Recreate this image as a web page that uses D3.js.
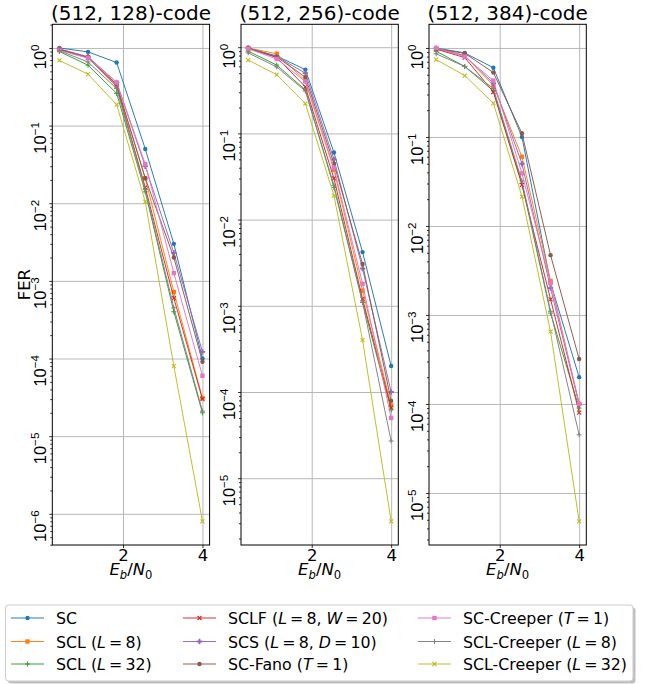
<!DOCTYPE html>
<html lang="en">
<head>
<meta charset="UTF-8">
<title>FER of (512, k) codes</title>
<script src="https://d3js.org/d3.v7.min.js"></script>
<style>
  body { margin: 0; background: #fff; }
  svg { font-family: "DejaVu Sans", sans-serif; }
  .tick line { stroke: #000; stroke-width: 0.8; }
  .grid .tick line { stroke: #b0b0b0; stroke-width: 0.9; }
</style>
</head>
<body>
<div id="chart"></div>
<script>
// Eb/N0 points and ticks
var ebn0 = [0.4, 1.12, 1.84, 2.56, 3.28, 4.0];
var xTicks = [2, 4];
var titles = ["(512, 128)-code", "(512, 256)-code", "(512, 384)-code"];

var labels = ["SC", "SCL (L = 8)", "SCL (L = 32)", "SCLF (L = 8, W = 20)", "SCS (L = 8, D = 10)",
              "SC-Fano (T = 1)", "SC-Creeper (T = 1)", "SCL-Creeper (L = 8)", "SCL-Creeper (L = 32)"];
var colors = ["#1f77b4", "#ff7f0e", "#2ca02c", "#d62728", "#9467bd",
              "#8c564b", "#e377c2", "#7f7f7f", "#bcbd22"];
var markers = ["o", "s", "+", "x", "P", "o", "s", "+", "x"];

// FER per decoder (same order as labels)
var fer128 = [
  [1.0, 0.89, 0.65, 0.05, 0.003, 1.0e-4],
  [0.97, 0.76, 0.33, 0.021, 7.2e-4, 3.1e-5],
  [0.9, 0.6, 0.26, 0.014, 4.0e-4, 2.0e-5],
  [0.95, 0.75, 0.32, 0.016, 6.0e-4, 3.0e-5],
  [0.97, 0.77, 0.36, 0.03, 2.3e-3, 1.22e-4],
  [0.96, 0.75, 0.34, 0.021, 2.0e-3, 9.1e-5],
  [0.93, 0.74, 0.36, 0.032, 1.26e-3, 6.0e-5],
  [0.92, 0.66, 0.3, 0.015, 4.5e-4, 2.1e-5],
  [0.69, 0.46, 0.186, 0.0105, 8.0e-5, 8.0e-7]
];
var fer256 = [
  [0.98, 0.79, 0.55, 0.06, 0.0042, 2.0e-4],
  [0.98, 0.84, 0.41, 0.038, 0.0015, 7.0e-5],
  [0.9, 0.62, 0.32, 0.0237, 0.0011, 6.2e-5],
  [0.97, 0.76, 0.347, 0.03, 0.0012, 6.6e-5],
  [0.98, 0.78, 0.5, 0.05, 0.0027, 1.0e-4],
  [0.97, 0.77, 0.45, 0.0446, 0.00305, 7.9e-5],
  [0.96, 0.73, 0.40, 0.04, 0.0018, 5.0e-5],
  [0.86, 0.59, 0.31, 0.025, 0.0011, 2.7e-5],
  [0.71, 0.48, 0.222, 0.019, 4.0e-4, 3.16e-6]
];
var fer384 = [
  [1.0, 0.88, 0.60, 0.10, 0.0023, 2.0e-4],
  [0.98, 0.82, 0.38, 0.06, 0.0024, 1.0e-4],
  [0.92, 0.62, 0.33, 0.03, 0.00105, 9.0e-5],
  [0.97, 0.78, 0.32, 0.029, 0.0015, 8.0e-5],
  [0.99, 0.82, 0.40, 0.05, 0.002, 1.0e-4],
  [0.98, 0.87, 0.53, 0.11, 0.0047, 3.2e-4],
  [1.0, 0.80, 0.43, 0.039, 0.0023, 1.0e-4],
  [0.86, 0.62, 0.35, 0.032, 0.0011, 4.5e-5],
  [0.74, 0.49, 0.24, 0.0214, 6.5e-4, 4.8e-6]
];
var yExps128 = [0, -1, -2, -3, -4, -5, -6];
var yExps256 = [0, -1, -2, -3, -4, -5];
var yExps384 = [0, -1, -2, -3, -4, -5];

var svg = d3.select("#chart").append("svg")
    .attr("width", 645).attr("height", 684);

var axTop = 24.3, axBottom = 545, pw = 157.3;
var panels = [
  {title: titles[0], fer: fer128, exps: yExps128, left: 52.3},
  {title: titles[1], fer: fer256, exps: yExps256, left: 241},
  {title: titles[2], fer: fer384, exps: yExps384, left: 429}
];

// draws one marker at (0,0) inside g
function drawMarker(g, type, color) {
  if (type == "o") {
    g.append("circle").attr("r", 2.2).attr("fill", color);
  } else if (type == "s") {
    g.append("rect").attr("x", -2.2).attr("y", -2.2).attr("width", 4.4).attr("height", 4.4).attr("fill", color);
  } else if (type == "+") {
    g.append("path").attr("d", "M-2.5,0H2.5M0,-2.5V2.5").attr("stroke", color).attr("stroke-width", 1);
  } else if (type == "x") {
    g.append("path").attr("d", "M-2,-2L2,2M-2,2L2,-2").attr("stroke", color).attr("stroke-width", 1.1);
  } else if (type == "P") {
    g.append("path").attr("d", d3.symbol(d3.symbolCross, 16)()).attr("fill", color);
  }
}

panels.forEach(function(p, pi) {
  var h = axBottom - axTop;
  var g = svg.append("g").attr("transform", "translate(" + p.left + "," + axTop + ")");

  var xr = d3.extent(ebn0), xp = (xr[1] - xr[0]) * 0.05;
  var x = d3.scaleLinear().domain([xr[0] - xp, xr[1] + xp]).range([0, pw]);

  var all = d3.merge(p.fer);
  var lo = Math.log10(d3.min(all)), hi = Math.log10(d3.max(all));
  var lp = (hi - lo) * 0.05;
  var y = d3.scaleLog().domain([Math.pow(10, lo - lp), Math.pow(10, hi + lp)]).range([h, 0]);

  var majors = p.exps.map(function(e) { return Math.pow(10, e); });
  var minors = [];
  for (var e = Math.floor(lo - lp); e <= 0; e++) {
    for (var m = 2; m < 10; m++) {
      var v = m * Math.pow(10, e);
      if (v >= y.domain()[0] && v <= y.domain()[1]) minors.push(v);
    }
  }

  // grid
  g.append("g").attr("class", "grid")
    .call(d3.axisLeft(y).tickValues(majors).tickSize(-pw).tickFormat(""))
    .call(function(s) { s.select(".domain").remove(); });
  g.append("g").attr("class", "grid")
    .attr("transform", "translate(0," + h + ")")
    .call(d3.axisBottom(x).tickValues(xTicks).tickSize(-h).tickFormat(""))
    .call(function(s) { s.select(".domain").remove(); });

  // x axis
  var xa = g.append("g").attr("transform", "translate(0," + h + ")")
    .call(d3.axisBottom(x).tickValues(xTicks).tickSize(3).tickPadding(1.2).tickFormat(d3.format("d")));
  xa.select(".domain").remove();
  xa.selectAll("text").attr("font-size", 16.5).attr("fill", "#000").attr("font-family", "DejaVu Sans");

  // y axis minor + major ticks
  var ym = g.append("g").call(d3.axisLeft(y).tickValues(minors).tickSize(2).tickFormat(""));
  ym.select(".domain").remove();
  var ya = g.append("g").call(d3.axisLeft(y).tickValues(majors).tickSize(3).tickFormat(""));
  ya.select(".domain").remove();
  ya.selectAll(".tick").each(function(d) {
    var t = d3.select(this).append("text")
      .attr("transform", "translate(-6,-4) rotate(-90)")
      .attr("text-anchor", "end")
      .attr("font-size", 16.5).attr("fill", "#000");
    var ex = Math.round(Math.log10(d));
    t.append("tspan").text("10");
    t.append("tspan").attr("font-size", 11.6).attr("dy", "-0.6em")
      .text(ex < 0 ? "\u2212" + (-ex) : String(ex));
  });

  // frame
  g.append("rect").attr("width", pw).attr("height", h)
    .attr("fill", "none").attr("stroke", "#000").attr("stroke-width", 1);

  // series
  var line = d3.line().x(function(d, i) { return x(ebn0[i]); }).y(function(d) { return y(d); });
  p.fer.forEach(function(vals, si) {
    g.append("path").datum(vals).attr("d", line)
      .attr("fill", "none").attr("stroke", colors[si]).attr("stroke-width", 1).attr("opacity", 0.95);
    vals.forEach(function(v, i) {
      var mg = g.append("g").attr("transform", "translate(" + x(ebn0[i]) + "," + y(v) + ")");
      drawMarker(mg, markers[si], colors[si]);
    });
  });

  // title
  svg.append("text").attr("x", p.left + pw / 2).attr("y", 19.5)
    .attr("text-anchor", "middle").attr("font-size", 20).text(p.title);

  // x label
  var xl = svg.append("text").attr("x", p.left + pw / 2).attr("y", 575)
    .attr("text-anchor", "middle").attr("font-size", 16.5);
  xl.append("tspan").attr("font-style", "italic").text("E");
  xl.append("tspan").attr("font-style", "italic").attr("font-size", 11.6).attr("dy", 3.5).text("b");
  xl.append("tspan").attr("dy", -3.5).text("/");
  xl.append("tspan").attr("font-style", "italic").text("N");
  xl.append("tspan").attr("font-size", 11.6).attr("dy", 3.5).text("0");
});

// y label
svg.append("text").attr("transform", "translate(30," + (axTop + axBottom) / 2 + ") rotate(-90)")
  .attr("text-anchor", "middle").attr("font-size", 16.5).text("FER");

// legend
var lg = svg.append("g");
lg.append("rect").attr("x", 8).attr("y", 607.5).attr("width", 627.5).attr("height", 76)
  .attr("rx", 3).attr("fill", "#7f7f7f").attr("opacity", 0.5);
lg.append("rect").attr("x", 5.5).attr("y", 605).attr("width", 627.5).attr("height", 76)
  .attr("rx", 3).attr("fill", "#fff").attr("stroke", "#cccccc").attr("stroke-width", 1);

var colX = [11, 183, 418];
var rowY = [618, 641.5, 664];
labels.forEach(function(lab, i) {
  var cx = colX[Math.floor(i / 3)], cy = rowY[i % 3];
  lg.append("line").attr("x1", cx).attr("x2", cx + 33).attr("y1", cy).attr("y2", cy)
    .attr("stroke", colors[i]).attr("stroke-width", 1.2).attr("opacity", 0.95);
  drawMarker(lg.append("g").attr("transform", "translate(" + (cx + 16.5) + "," + cy + ")"), markers[i], colors[i]);
  var t = lg.append("text").attr("x", cx + 45).attr("y", cy + 6).attr("font-size", 15.8);
  lab.split(/([LWDT])(?= = )/).forEach(function(part, k) {
    t.append("tspan").attr("font-style", k % 2 ? "italic" : null)
      .text(part.replace(/ = /g, "\u2009=\u2009"));
  });
});
</script>
</body>
</html>
